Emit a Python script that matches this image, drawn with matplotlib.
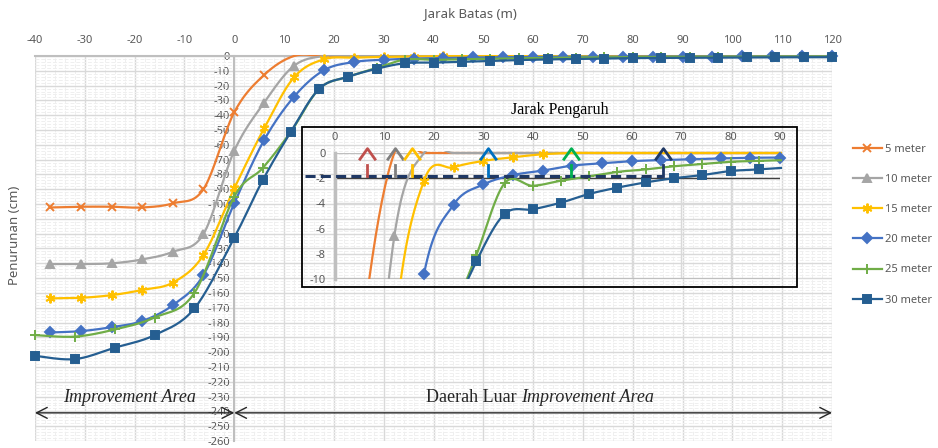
import numpy as np
import matplotlib
matplotlib.use("Agg")
import matplotlib.pyplot as plt
from matplotlib.lines import Line2D
from matplotlib.patches import Rectangle
from matplotlib.path import Path
from matplotlib.transforms import Bbox, TransformedBbox

plt.rcParams['font.family'] = ['Noto Sans', 'DejaVu Sans']
plt.rcParams['axes.unicode_minus'] = False

# jarak dari batas (m)
jarak_a = [-37, -30.8, -24.6, -18.5, -12.3, -6.2, 0, 6, 12, 18, 24, 30, 36, 42, 48,
           54, 60, 66, 72, 78, 84, 90, 96, 102, 108, 114, 120]
jarak_b = [-40, -32, -24, -16, -8, 0, 5.7, 11.4, 17.1, 22.9, 28.6, 34.3, 40, 45.7,
           51.4, 57.1, 62.9, 68.6, 74.3, 80, 85.7, 91.4, 97.1, 102.9, 108.6, 114.3, 120]

# penurunan (cm)
s5 = [-102.3, -101.8, -101.8, -102.3, -99.5, -90, -38, -12.8, 0, 0, 0, 0, 0, 0, 0,
      0, 0, 0, 0, 0, 0, 0, 0, 0, 0, 0, 0]
s10 = [-140.5, -140.5, -140, -137.4, -132.2, -120.3, -64, -31.5, -6.6, 0, 0, 0, 0, 0, 0,
       0, 0, 0, 0, 0, 0, 0, 0, 0, 0, 0, 0]
s15 = [-163.7, -163.3, -161.5, -158, -153, -134.5, -89.4, -48.9, -14.4, -2.2, -1.14, -0.63,
       -0.34, -0.1, 0, 0, 0, 0, 0, 0, 0, 0, 0, 0, 0, 0, 0]
s20 = [-186.7, -185.8, -183.1, -179, -168.2, -148, -99.5, -56.8, -27.5, -9.6, -4.1, -2.5,
       -1.75, -1.4, -1.0, -0.82, -0.65, -0.56, -0.5, -0.43, -0.38, -0.36, -0.34, -0.32,
       -0.3, -0.29, -0.28]
s25 = [-188.5, -189.5, -184.7, -176.6, -160, -95, -75.7, -51, -22, -14, -8.1, -2.4, -2.6,
       -2.2, -1.85, -1.5, -1.3, -1.05, -0.88, -0.7, -0.62, -0.55, -0.5, -0.45, -0.4,
       -0.38, -0.35]
s30 = [-202.5, -204.7, -197, -188.5, -170.5, -122.7, -84, -51, -22, -14, -8.6, -4.84,
       -4.47, -3.94, -3.25, -2.75, -2.33, -2.0, -1.75, -1.43, -1.3, -1.15, -1.05, -0.95,
       -0.9, -0.85, -0.8]

labels = ['5 meter', '10 meter', '15 meter', '20 meter', '25 meter', '30 meter']
colors = ['#ED7D31', '#A5A5A5', '#FFC000', '#4472C4', '#70AD47', '#255E91']
markers = ['x', '^', (6, 2, 0), 'D', '+', 's']
msizes = [6, 6, 7, 5, 7, 6]
series = [(jarak_a, s5), (jarak_a, s10), (jarak_a, s15), (jarak_a, s20),
          (jarak_b, s25), (jarak_b, s30)]

# jarak pengaruh tiap panjang PVD (m)
jarak_pengaruh = [6.5, 12.2, 15.6, 31.0, 47.8, 66.4]
arrow_colors = ['#C0504D', '#7F7F7F', '#FFC000', '#0070C0', '#00B050', '#1F3864']
batas_penurunan = -2
garis_putus = -1.8

grid_c = '#D9D9D9'
text_c = '#595959'


def smooth(xs, ys, n=20):
    # excel-like smoothed line (bezier through points)
    p = np.column_stack([xs, ys]).astype(float)
    pts = np.vstack([p[0], p, p[-1]])
    t = np.linspace(0, 1, n)[:, None]
    out = []
    for i in range(len(p) - 1):
        p0, p1, p2, p3 = pts[i], pts[i + 1], pts[i + 2], pts[i + 3]
        c1 = p1 + (p2 - p0) / 6
        c2 = p2 - (p3 - p1) / 6
        seg = (1 - t) ** 3 * p1 + 3 * (1 - t) ** 2 * t * c1 + 3 * (1 - t) * t ** 2 * c2 + t ** 3 * p2
        out.append(seg if i == 0 else seg[1:])
    out = np.vstack(out)
    return out[:, 0], out[:, 1]


W, H = 938, 448
fig = plt.figure(figsize=(W / 100, H / 100), dpi=100)

# ---------------- main chart
ax = fig.add_axes([35 / W, 7 / H, 797 / W, 385 / H])
ax.set_xlim(-40, 120)
ax.set_ylim(-260, 0)
ax.set_axisbelow(True)

ax.set_xticks(np.arange(-40, 121, 10))
ax.set_yticks(np.arange(-260, 1, 10))
ax.set_xticks(np.arange(-40, 121, 2), minor=True)
ax.set_yticks(np.arange(-260, 1, 2), minor=True)
ax.grid(which='major', color=grid_c, lw=1)
ax.grid(which='minor', color='#EFEFEF', lw=0.7, ls=(0, (4, 2)))

ax.xaxis.set_ticks_position('top')
ax.tick_params(axis='both', which='both', length=0, colors=text_c, labelsize=8)
ax.tick_params(axis='x', pad=7)
ax.tick_params(axis='y', pad=3)
ax.spines['left'].set_position(('data', 0))
for s in ['right', 'bottom']:
    ax.spines[s].set_visible(False)
for s in ['left', 'top']:
    ax.spines[s].set_color('#BFBFBF')
    ax.spines[s].set_linewidth(1.5)

main_clip = TransformedBbox(Bbox([[-41, -261], [121, 0.6]]), ax.transData)
for (xs, ys), c, m, ms in zip(series, colors, markers, msizes):
    sx, sy = smooth(xs, ys)
    ln, = ax.plot(sx, sy, color=c, lw=1.6, zorder=3)
    ln.set_clip_box(main_clip)
    xa, ya = np.array(xs), np.array(ys)
    ax.plot(xa[ya < 0], ya[ya < 0], ls='none', marker=m, ms=ms, color=c, mew=1.4,
            clip_on=False, zorder=3)

fig.text(470 / W, 1 - 14 / H, 'Jarak Batas (m)', ha='center', va='center', fontsize=9.5, color=text_c)
fig.text(15 / W, 1 - 235 / H, 'Penurunan (cm)', ha='center', va='center', rotation=90,
         fontsize=9.5, color=text_c)

# area arrows
arr = dict(arrowstyle='<->,head_length=0.55,head_width=0.28', color='#262626', lw=1,
           shrinkA=0, shrinkB=0, mutation_scale=14)
ax.annotate('', xy=(-40, -241), xytext=(0, -241), arrowprops=arr, annotation_clip=False)
ax.annotate('', xy=(0, -241), xytext=(120, -241), arrowprops=arr, annotation_clip=False)
ax.text(-21, -230.5, 'Improvement Area', ha='center', va='center', fontsize=13,
        family='Liberation Serif', style='italic', color='#262626')
t1 = ax.text(57.5, -230.5, 'Daerah Luar ', ha='right', va='center', fontsize=13,
             family='Liberation Serif', color='#262626')
ax.annotate('Improvement Area', xy=(1, 0), xycoords=t1, xytext=(0, 0), textcoords='offset points',
            ha='left', va='bottom', fontsize=13, family='Liberation Serif', style='italic',
            color='#262626')

# legend
handles = [Line2D([], [], color=c, marker=m, ms=ms, mew=1.4, lw=1.6)
           for c, m, ms in zip(colors, markers, msizes)]
leg = fig.legend(handles, labels, loc='upper left', bbox_to_anchor=(853 / W, 1 - 144 / H),
                 frameon=False, fontsize=8, labelspacing=1.72, handlelength=2.6,
                 handletextpad=0.3, borderpad=0, borderaxespad=0)
for t in leg.get_texts():
    t.set_color(text_c)

# ---------------- inset (jarak pengaruh)
fig.add_artist(Rectangle((302 / W, 1 - 287 / H), 495 / W, 160 / H, transform=fig.transFigure,
                         fill=False, ec='black', lw=1.3))
fig.text(560 / W, 1 - 110 / H, 'Jarak Pengaruh', ha='center', va='center', fontsize=11.5,
         family='Liberation Serif', color='black')

ins = fig.add_axes([335 / W, 1 - 279 / H, 445 / W, 126 / H])
ins.patch.set_alpha(0)
ins.set_xlim(0, 90)
ins.set_ylim(-10, 0)
ins.set_xticks(np.arange(0, 91, 10))
ins.set_yticks(np.arange(-10, 1, 2))
ins.set_axisbelow(True)
ins.grid(color=grid_c, lw=1)
ins.xaxis.set_ticks_position('top')
ins.tick_params(length=0, colors=text_c, labelsize=8)
ins.tick_params(axis='x', pad=7)
ins.tick_params(axis='y', pad=7)
for s in ['right', 'top', 'bottom']:
    ins.spines[s].set_visible(False)
ins.spines['left'].set_color('#BFBFBF')
ins.spines['left'].set_linewidth(2.5)
ins.axhline(0, color='#BFBFBF', lw=1.5, zorder=1)
ins.axhline(-10, color='#BFBFBF', lw=1.5, zorder=1)

clip = TransformedBbox(Bbox([[0, -10], [90.5, 0.15]]), ins.transData)
for (xs, ys), c, m, ms in zip(series, colors, markers, msizes):
    sx, sy = smooth(xs, ys)
    ln, = ins.plot(sx, sy, color=c, lw=1.6, zorder=3)
    ln.set_clip_box(clip)
    xa, ya = np.array(xs), np.array(ys)
    keep = (xa >= 0) & (xa <= 91) & (ya >= -10.3) & (ya < 0)
    ins.plot(xa[keep], ya[keep], ls='none', marker=m, ms=ms, color=c, mew=1.4,
             clip_on=False, zorder=3)

ins.plot([0, 90], [batas_penurunan, batas_penurunan], color='#404040', lw=1, zorder=2)
ins.plot([-6.1, max(jarak_pengaruh)], [garis_putus, garis_putus], color=arrow_colors[-1],
         lw=2.2, ls=(0, (3.3, 1.7)), clip_on=False, zorder=4)

chevron = Path([(-1, -0.7), (0, 0.7), (1, -0.7)], [Path.MOVETO, Path.LINETO, Path.LINETO])
for xp, c in zip(jarak_pengaruh, arrow_colors):
    ins.plot([xp, xp], [garis_putus, -0.95], color=c, lw=2, clip_on=False, zorder=4)
    ins.plot([xp], [-0.09], marker=chevron, ms=12, mfc='none', mec=c, mew=2,
             clip_on=False, zorder=4)

fig.savefig('out.png', dpi=100)
